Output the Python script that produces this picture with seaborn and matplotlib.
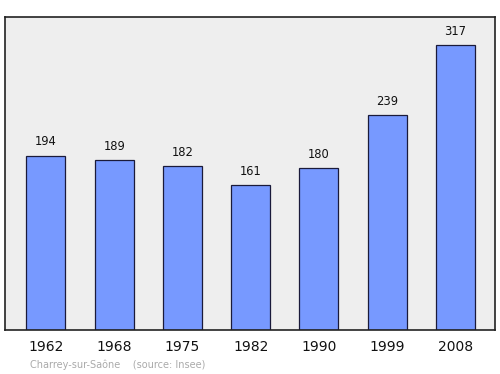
import matplotlib
matplotlib.use("Agg")
import matplotlib.pyplot as plt
import seaborn as sns
import pandas as pd

years = ["1962", "1968", "1975", "1982", "1990", "1999", "2008"]
population = [194, 189, 182, 161, 180, 239, 317]

sns.set_theme(style="white")
plt.rcParams['font.family'] = ['DejaVu Sans']

df = pd.DataFrame({"year": years, "pop": population})

fig = plt.figure(figsize=(5, 3.74), dpi=100)
ax = fig.add_axes([0.01, 0.1176, 0.98, 0.837])
ax.set_facecolor("#eeeeee")
sns.barplot(data=df, x="year", y="pop", ax=ax, color="#7799ff", saturation=1,
            width=0.57, edgecolor="#1a1a3a", linewidth=0.9)
ax.set_xlim(-0.6, 6.58)
ax.set_ylim(0, 348)
for i, v in enumerate(population):
    ax.annotate(str(v), (i, v), xytext=(0, 5.2), textcoords="offset points",
                ha="center", va="bottom", fontsize=8.3, color="#111111")
ax.set_yticks([])
ax.set_xlabel("")
ax.set_ylabel("")
ax.tick_params(axis="x", length=0, labelsize=10, pad=7, colors="#111111")
for s in ax.spines.values():
    s.set_color("#222222")
    s.set_linewidth(1.2)
fig.text(0.06, 0.012, "Charrey-sur-Saône    (source: Insee)", fontsize=7,
         color="#aaaaaa", ha="left", va="bottom")
fig.savefig("out.png", dpi=100)
